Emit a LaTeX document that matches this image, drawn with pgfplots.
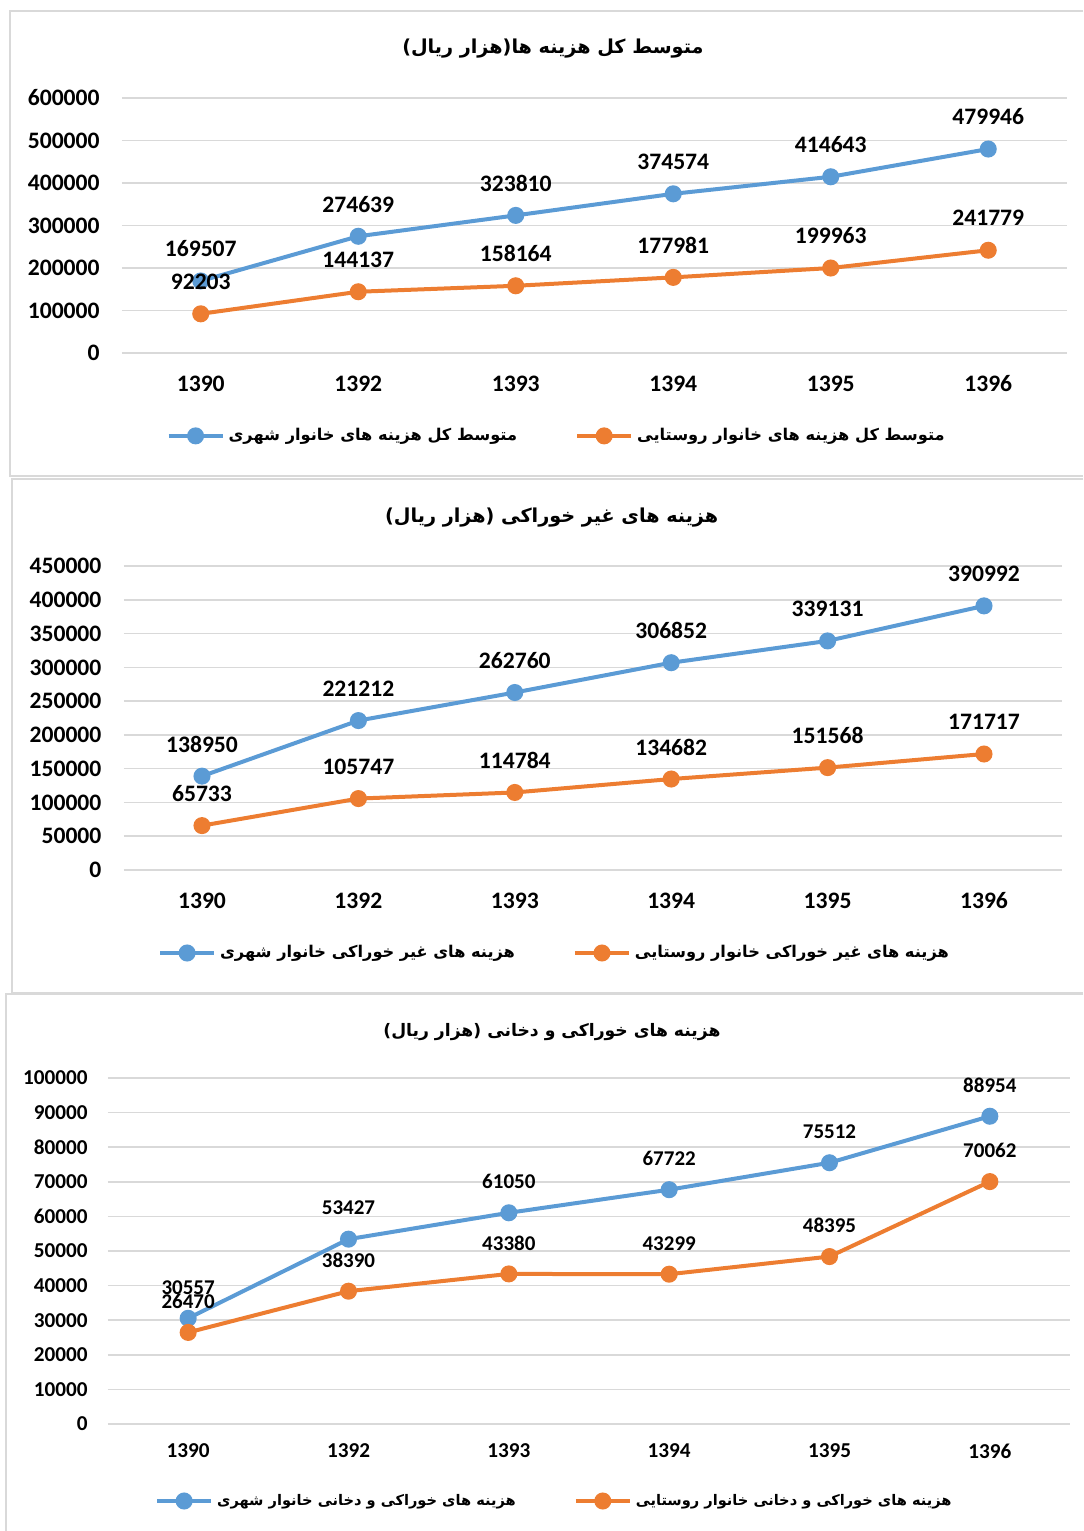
\documentclass[border=0pt]{standalone}
\usepackage{fontspec}
\usepackage{pgfplots}
\pgfplotsset{compat=1.18}
\usepackage{pgfplotstable}
\setmainfont{Carlito}
\newfontfamily\arabicfont[Script=Arabic]{DejaVu Sans}
\TeXXeTstate=1
\definecolor{cblue}{HTML}{5B9BD5}
\definecolor{corange}{HTML}{ED7D31}
\definecolor{gridc}{HTML}{D9D9D9}

% data (thousand rials)
\pgfplotstableread{
x urban rural
1 169507 92203
2 274639 144137
3 323810 158164
4 374574 177981
5 414643 199963
6 479946 241779
}\totaltbl
\pgfplotstableread{
x urban rural
1 138950 65733
2 221212 105747
3 262760 114784
4 306852 134682
5 339131 151568
6 390992 171717
}\nonfoodtbl
\pgfplotstableread{
x urban rural
1 30557 26470
2 53427 38390
3 61050 43380
4 67722 43299
5 75512 48395
6 88954 70062
}\foodtbl

\pgfplotsset{
  panel/.style={
    scale only axis, clip=false,
    axis line style={draw=none}, major tick length=0pt,
    ymajorgrids, grid style={draw=gridc, line width=0.75pt},
    xmin=0.5, xmax=6.5, xtick={1,...,6},
    xticklabels={1390,1392,1393,1394,1395,1396},
    ymin=0, scaled y ticks=false,
    yticklabel style={anchor=east, inner sep=0pt},
    xticklabel style={anchor=center},
    title style={anchor=center, font=\arabicfont\bfseries\fontsize{9.6}{12}\selectfont},
    legend columns=2,
    legend style={draw=none, fill=none, anchor=center,
      font=\arabicfont\bfseries\fontsize{8.1}{10}\selectfont,
      /tikz/every even column/.append style={column sep=27pt}},
    legend image code/.code={\draw[mark repeat=2, mark phase=2, ##1]
      plot coordinates {(0pt,0pt) (13.5pt,0pt) (27pt,0pt)};},
    point meta=explicit symbolic,
  },
  ser/.style={color=#1, line width=2pt, mark=*, mark size=3.25pt,
    mark options={solid, fill=#1}, nodes near coords},
}

\begin{document}
\begin{tikzpicture}
\path[use as bounding box] (0pt,0pt) rectangle (541.5pt,-765.5pt);
\begin{scope}[x=0.5pt, y=-0.5pt, draw=gridc, line width=1pt]
  \draw (1083,11) -- (9.5,11) -- (9.5,475.5) -- (1083,475.5);
  \draw (1083,478.7) -- (11.5,478.7) -- (11.5,992.7) -- (1083,992.7);
  \draw (1083,994) -- (5.5,994) -- (5.5,1531);
\end{scope}

% panel 1
\begin{axis}[panel,
  at={(61pt,-176.5pt)}, anchor=south west,
  width=472.5pt, height=127.5pt,
  ymax=600000, ytick={0,100000,...,600000},
  yticklabels={0,100000,200000,300000,400000,500000,600000},
  tick label style={font=\bfseries\fontsize{11.8}{13}\selectfont},
  yticklabel style={xshift=-11pt},
  xticklabel style={yshift=-15.5pt},
  every node near coord/.append style={font=\bfseries\fontsize{11.8}{13}\selectfont, text=black, anchor=center, yshift=16pt},
  title={\beginR متوسط کل هزینه ها(هزار ریال)\endR},
  title style={at={(0.456,1)}, yshift=18.5pt},
  legend style={at={(0.461,-0.325)}},
]
\addplot[ser=cblue] table[x=x, y=urban, meta=urban] {\totaltbl};
\addlegendentry{\beginR متوسط کل هزینه های خانوار شهری\endR}
\addplot[ser=corange] table[x=x, y=rural, meta=rural] {\totaltbl};
\addlegendentry{\beginR متوسط کل هزینه های خانوار روستایی\endR}
\end{axis}

% panel 2
\begin{axis}[panel,
  at={(61.9pt,-435pt)}, anchor=south west,
  width=469.2pt, height=152pt,
  ymax=450000, ytick={0,50000,...,450000},
  yticklabels={0,50000,100000,150000,200000,250000,300000,350000,400000,450000},
  tick label style={font=\bfseries\fontsize{11.8}{13}\selectfont},
  yticklabel style={xshift=-11pt},
  xticklabel style={yshift=-15.5pt},
  every node near coord/.append style={font=\bfseries\fontsize{11.8}{13}\selectfont, text=black, anchor=center, yshift=16pt},
  title={\beginR هزینه های غیر خوراکی (هزار ریال)\endR},
  title style={at={(0.456,1)}, yshift=18pt},
  legend style={at={(0.46,-0.273)}},
]
\addplot[ser=cblue] table[x=x, y=urban, meta=urban] {\nonfoodtbl};
\addlegendentry{\beginR هزینه های غیر خوراکی خانوار شهری\endR}
\addplot[ser=corange] table[x=x, y=rural, meta=rural] {\nonfoodtbl};
\addlegendentry{\beginR هزینه های غیر خوراکی خانوار روستایی\endR}
\end{axis}

% panel 3
\begin{axis}[panel,
  at={(54pt,-712pt)}, anchor=south west,
  width=481pt, height=173pt,
  ymax=100000, ytick={0,10000,...,100000},
  yticklabels={0,10000,20000,30000,40000,50000,60000,70000,80000,90000,100000},
  tick label style={font=\bfseries\fontsize{10.6}{12}\selectfont},
  yticklabel style={xshift=-10pt},
  xticklabel style={yshift=-13.5pt},
  every node near coord/.append style={font=\bfseries\fontsize{10.5}{12}\selectfont, text=black, anchor=center, yshift=15.5pt},
  title={\beginR هزینه های خوراکی و دخانی (هزار ریال)\endR},
  title style={at={(0.4615,1)}, yshift=17pt, font=\arabicfont\bfseries\fontsize{8.6}{11}\selectfont},
  legend style={at={(0.465,-0.2225)}, font=\arabicfont\bfseries\fontsize{7.3}{9}\selectfont},
]
\addplot[ser=cblue] table[x=x, y=urban, meta=urban] {\foodtbl};
\addlegendentry{\beginR هزینه های خوراکی و دخانی خانوار شهری\endR}
\addplot[ser=corange] table[x=x, y=rural, meta=rural] {\foodtbl};
\addlegendentry{\beginR هزینه های خوراکی و دخانی خانوار روستایی\endR}
\end{axis}
\end{tikzpicture}
\end{document}
